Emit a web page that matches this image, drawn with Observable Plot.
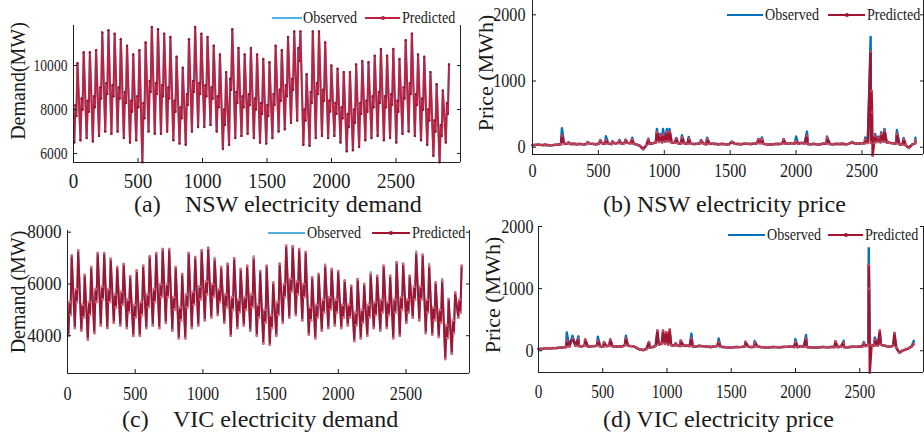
<!DOCTYPE html>
<html><head><meta charset="utf-8">
<script src="https://cdn.jsdelivr.net/npm/d3@7"></script>
<script src="https://cdn.jsdelivr.net/npm/@observablehq/plot@0.6"></script>
<style>
body{margin:0;background:#fff;}
#fig{position:relative;width:924px;height:441px;overflow:hidden;background:#fff;font-family:"Liberation Serif","Times New Roman",serif;color:#1a1a1a;}
.panel{position:absolute;}
.cap{position:absolute;font-size:24px;line-height:1;white-space:pre;}
.ylab{position:absolute;white-space:nowrap;line-height:1;transform:translate(-50%,-50%) rotate(-90deg);}
.lt{position:absolute;font-size:16px;line-height:1;white-space:nowrap;transform:scaleX(0.88);transform-origin:left center;}
.ll{position:absolute;height:1.6px;}
.lm{position:absolute;width:4px;height:4px;border-radius:50%;}
</style></head>
<body><div id="fig"></div>
<script>
// ---------- tick labels ----------
const xTicks = [0, 500, 1000, 1500, 2000, 2500];
const demandTicksNSW = [6000, 8000, 10000];
const demandTicksVIC = [4000, 6000, 8000];
const priceTicks = [0, 1000, 2000];

// ---------- NSW demand (MW): daily trough, morning shoulder, midday dip, daily peak ----------
const nswLow = [6500, 6600, 6700, 6550, 6800, 7000, 6900, 7000, 6700, 6500,
  6600, 5600, 7000, 6900, 6900, 7000, 6600, 6450, 6400, 7000,
  7200, 7200, 7300, 7000, 6200, 6400, 6700, 6800, 6900, 6700,
  6500, 6450, 6700, 7000, 7100, 7400, 7500, 6400, 6350, 6700,
  6800, 6700, 6800, 6500, 6100, 6150, 6300, 6600, 6700, 6800,
  6600, 6700, 6500, 6900, 7000, 6800, 6600, 6400, 5900, 5600, 6500];
const nswMid = [8200, 8500, 8400, 8600, 9000, 9200, 9100, 9000, 8800, 8400,
  8600, 8300, 9300, 9200, 9100, 9000, 8400, 8100, 8700, 9300,
  9200, 9100, 9000, 8600, 8000, 9400, 8800, 8600, 8700, 8500,
  8300, 8200, 8700, 8900, 9100, 9400, 10800, 8000, 8800, 9200,
  8900, 8400, 8300, 8100, 7800, 8000, 8300, 8400, 8600, 8800,
  8600, 8700, 8400, 9000, 9200, 8700, 8500, 8000, 7500, 7300, 8300];
const nswDip = [7700, 8000, 7900, 8100, 8500, 8700, 8600, 8500, 8300, 7900,
  8100, 7600, 8800, 8700, 8600, 8500, 7900, 7600, 8200, 8800,
  8700, 8600, 8500, 8100, 7300, 8900, 8300, 8100, 8200, 8000,
  7800, 7700, 8200, 8400, 8600, 8900, 10200, 7500, 8300, 8700,
  8400, 7900, 7800, 7600, 7200, 7400, 7800, 7900, 8100, 8300,
  8100, 8200, 7900, 8500, 8700, 8200, 8000, 7500, 7000, 6800, 7800];
const nswHigh = [10100, 10600, 10600, 10700, 11500, 11600, 11450, 11200, 10900, 10500,
  10700, 11050, 11750, 11650, 11450, 11300, 10400, 9900, 11200, 11750,
  11450, 11300, 10900, 10500, 9700, 11650, 10800, 10500, 10800, 10500,
  10300, 10150, 10900, 10700, 11300, 11550, 11550, 9600, 11550, 11550,
  11050, 10000, 9850, 9700, 9700, 10050, 10200, 10150, 10450, 10750,
  10450, 10750, 10300, 11150, 11450, 10500, 10400, 9700, 9150, 8860, 10050];

// ---------- VIC demand (MW) ----------
const vicLow = [4000, 4300, 4200, 3850, 4100, 4400, 4300, 4500, 4400, 4300,
  4000, 4000, 4300, 4400, 4300, 4500, 4200, 3900, 3900, 4300,
  4400, 4600, 4700, 4800, 4500, 4000, 4300, 4400, 4200, 4000,
  3700, 3650, 4000, 4500, 4700, 4800, 4600, 4050, 3900, 4200,
  4300, 4400, 4300, 4400, 3800, 3900, 4000, 4300, 4200, 4300,
  3900, 4000, 4500, 4700, 4600, 4100, 4050, 3950, 3100, 3300, 4700];
const vicMid = [5300, 5800, 5200, 5300, 5800, 5900, 5800, 5600, 5700, 5400,
  5200, 5300, 5600, 5800, 6000, 6000, 5500, 5100, 5600, 5700,
  5900, 6100, 6000, 5800, 5600, 5500, 5400, 5500, 5600, 5200,
  5000, 4800, 5300, 6000, 6200, 6100, 6000, 5100, 5200, 5400,
  5500, 5400, 5200, 5200, 4900, 5000, 5200, 5300, 5400, 5300,
  5400, 5500, 5400, 5900, 5900, 5400, 5100, 5000, 4400, 4600, 5400];
const vicDip = [4800, 5300, 4700, 4800, 5300, 5400, 5300, 5100, 5200, 4900,
  4700, 4800, 5100, 5300, 5500, 5500, 5000, 4600, 5100, 5200,
  5400, 5600, 5500, 5300, 5100, 5000, 4900, 5000, 5100, 4700,
  4500, 4300, 4800, 5500, 5700, 5600, 5500, 4600, 4700, 4900,
  5000, 4900, 4700, 4700, 4400, 4500, 4700, 4800, 4900, 4800,
  4900, 5000, 4900, 5400, 5400, 4900, 4600, 4500, 3900, 4100, 4900];
const vicHigh = [7100, 7290, 6350, 6650, 7200, 7200, 6970, 6650, 6775, 6300,
  6515, 6700, 7070, 7200, 7350, 7350, 6650, 6380, 7200, 7040,
  7300, 7400, 6950, 6650, 6780, 6990, 6580, 6700, 7000, 6500,
  6700, 6060, 6780, 7480, 7460, 7350, 7230, 6260, 6380, 6700,
  6580, 6500, 6130, 5935, 6190, 6000, 6380, 6320, 6700, 6320,
  6840, 6780, 6320, 7200, 7130, 6700, 6060, 6130, 5420, 5670, 6700];
// observed peaks that show above the prediction: [day, MW]
const vicObsPeaks = [[22, 7020], [28, 7080], [39, 6760], [46, 6460], [53, 7260], [55, 6790], [57, 6200]];

// ---------- NSW price ($/MWh): half-day base level + spikes [time, value] ----------
const nswPriceBase = [30, 35, 40, 32, 38, 30, 28, 35, 40, 45,
  50, 55, 48, 52, 45, 50, 42, 48, 55, 50,
  45, 52, 60, 50, 55, 48, 58, 62, 55, 60,
  65, 58, 50, 40, 20, -30, 30, 50, 60, 70,
  80, 75, 85, 90, 70, 65, 60, 55, 60, 50,
  55, 48, 50, 60, 55, 45, 50, 52, 48, 45,
  50, 45, 40, 42, 50, 48, 45, 55, 50, 48,
  55, 60, 58, 50, 45, 40, 42, 50, 48, 55,
  52, 58, 60, 55, 50, 65, 55, 48, 45, 50,
  42, 45, 55, 52, 48, 45, 50, 48, 52, 45,
  50, 48, 55, 52, 60, 58, 65, 70, 60, 80,
  75, 85, 70, 65, 60, 55, 45, 40, 30, -10,
  40, 60];
const nswObsSpikes = [[223, 286], [273, 75], [420, 80], [514, 110], [557, 165], [607, 90], [660, 110], [707, 115], [757, 145], [879, 128],
  [944, 276], [970, 200], [990, 276], [1020, 276], [1040, 276], [1091, 140], [1134, 180], [1185, 155], [1279, 110], [1325, 145],
  [1512, 85], [1715, 126], [1741, 148], [1906, 126], [2000, 161], [2083, 236], [2235, 161], [2424, 80], [2525, 148],
  [2566, 1665], [2576, 120], [2600, 200], [2625, 161], [2646, 226], [2671, 276], [2702, 80], [2765, 261], [2816, 140], [2906, 145]];
const nswPredSpikes = [[223, 176], [273, 70], [420, 75], [514, 95], [557, 110], [607, 85], [660, 100], [707, 105], [757, 120], [879, 115],
  [944, 226], [970, 176], [990, 190], [1020, 226], [1040, 240], [1091, 130], [1134, 145], [1185, 130], [1279, 100], [1325, 120],
  [1512, 80], [1715, 120], [1741, 120], [1906, 115], [2000, 90], [2083, 176], [2235, 140], [2424, 75], [2525, 115],
  [2566, 1444], [2573, 851], [2577, 530], [2581, -125], [2600, 170], [2625, 140], [2646, 200], [2671, 250], [2702, 75], [2765, 200], [2816, 120], [2906, 100]];

// ---------- VIC price ($/MWh) ----------
const vicPriceBase = [30, 28, 35, 40, 38, 42, 45, 50, 55, 60,
  70, 65, 80, 75, 70, 85, 65, 70, 75, 80,
  70, 65, 75, 80, 70, 68, 72, 65, 90, 80,
  75, 70, 40, 20, 10, 30, 50, 60, 80, 100,
  120, 110, 100, 90, 80, 85, 75, 80, 85, 75,
  70, 65, 80, 75, 70, 65, 60, 70, 75, 65,
  60, 55, 50, 55, 60, 58, 62, 70, 65, 60,
  65, 70, 60, 55, 50, 55, 60, 58, 55, 60,
  62, 65, 70, 60, 58, 75, 65, 60, 55, 50,
  52, 55, 60, 58, 55, 62, 60, 58, 65, 60,
  55, 60, 65, 62, 70, 68, 75, 100, 90, 85,
  80, 95, 85, 70, 65, 80, 50, -30, 0, 20,
  40, 70];
const vicObsSpikes = [[220, 296], [264, 242], [311, 232], [363, 178], [462, 226], [510, 140], [558, 178], [680, 242], [860, 140],
  [925, 300], [969, 300], [995, 280], [1021, 300], [1068, 116], [1107, 161], [1190, 274], [1402, 199], [1610, 141], [1682, 156],
  [1999, 188], [2082, 253], [2310, 150], [2375, 160], [2531, 140], [2570, 1650], [2578, 100], [2617, 215], [2656, 280], [2770, 250], [2921, 161]];
const vicPredSpikes = [[220, 161], [264, 200], [311, 190], [363, 178], [462, 160], [510, 130], [558, 178], [680, 200], [860, 140],
  [925, 323], [969, 323], [995, 296], [1021, 339], [1068, 116], [1107, 161], [1190, 200], [1402, 140], [1610, 141], [1682, 130],
  [1999, 140], [2082, 200], [2310, 150], [2375, 130], [2531, 120], [2570, 1382], [2573, 1000], [2578, -350], [2617, 180], [2656, 323], [2770, 285], [2921, 110]];

// ---------- build tables ----------
const DAY = 48;
function demandTable(low, mid, dip, high, peakOverride) {
  const over = new Map(peakOverride || []);
  const rows = [];
  low.forEach((_, d) => {
    rows.push({t: d * DAY + 6, v: low[d]});
    rows.push({t: d * DAY + 15, v: mid[d]});
    rows.push({t: d * DAY + 22, v: dip[d]});
    rows.push({t: d * DAY + 31, v: over.has(d) ? over.get(d) : high[d]});
  });
  return rows;
}
function priceTable(base, spikes) {
  const m = new Map(base.map((v, i) => [i * 24, v]));
  spikes.forEach(([t, v]) => m.set(t, v));
  return [...m].sort((a, b) => a[0] - b[0]).map(([t, v]) => ({t, v}));
}

const BLUE = "#0072BD", RED = "#A2142F";
const fig = document.getElementById("fig");

function panel(cfg) {
  const [x0, x1] = cfg.xDomain, [y0] = cfg.yDomain;
  const chart = Plot.plot({
    width: cfg.width, height: cfg.height,
    marginLeft: cfg.mL, marginRight: cfg.mR, marginTop: cfg.mT, marginBottom: cfg.mB,
    x: {domain: cfg.xDomain},
    y: {domain: cfg.yDomain},
    style: {fontFamily: '"Liberation Serif","Times New Roman",serif', color: "#1a1a1a", background: "transparent", overflow: "visible"},
    marks: [
      Plot.line(cfg.obs, {x: "t", y: "v", stroke: cfg.obsColor, strokeWidth: cfg.sw}),
      Plot.line(cfg.pred, {x: "t", y: "v", stroke: cfg.predColor, strokeWidth: cfg.sw}),
      Plot.dot(cfg.pred, {x: "t", y: "v", r: cfg.dotR, fill: cfg.dotColor, stroke: null}),
      Plot.ruleX([x0, x1], {stroke: "#222", strokeWidth: 1}),
      Plot.ruleY([y0], {stroke: "#222", strokeWidth: 1}),
      Plot.axisX({ticks: xTicks, tickSize: -4, tickPadding: cfg.padX, fontSize: cfg.fontX, label: null, tickFormat: d => String(d)}),
      Plot.axisY({ticks: cfg.yTicks, tickSize: -4, tickPadding: cfg.padY, fontSize: cfg.fontY, label: null, tickFormat: d => String(d)}),
      Plot.axisY({anchor: "right", ticks: cfg.yTicks, tickSize: -4, label: null, tickFormat: () => ""})
    ]
  });
  chart.classList.add("panel");
  chart.style.left = cfg.left + "px";
  chart.style.top = cfg.top + "px";
  fig.appendChild(chart);
  const squeeze = (sel, k) => chart.querySelectorAll(sel).forEach(t => {
    const L = t.getComputedTextLength();
    if (L > 0) { t.setAttribute("textLength", (L * k).toFixed(1)); t.setAttribute("lengthAdjust", "spacingAndGlyphs"); }
  });
  squeeze('g[aria-label="x-axis tick label"] text', cfg.sqX);
  squeeze('g[aria-label="y-axis tick label"] text', cfg.sqY);
}

function legend(y, obsLine, obsX, predLine, predX, obsColor, predColor) {
  const add = (cls, css, txt) => { const e = document.createElement("div"); e.className = cls; Object.assign(e.style, css); if (txt) e.textContent = txt; fig.appendChild(e); };
  add("ll", {left: obsLine[0] + "px", width: (obsLine[1] - obsLine[0]) + "px", top: (y - 0.8) + "px", background: obsColor});
  add("lt", {left: obsX + "px", top: (y - 8) + "px"}, "Observed");
  add("ll", {left: predLine[0] + "px", width: (predLine[1] - predLine[0]) + "px", top: (y - 0.8) + "px", background: predColor});
  add("lm", {left: ((predLine[0] + predLine[1]) / 2 - 2) + "px", top: (y - 2) + "px", background: predColor});
  add("lt", {left: predX + "px", top: (y - 8) + "px"}, "Predicted");
}
function text(cls, left, top, str, css) {
  const e = document.createElement("div"); e.className = cls; e.textContent = str;
  e.style.left = left + "px"; e.style.top = top + "px"; Object.assign(e.style, css || {}); fig.appendChild(e);
}

// (a) NSW demand
panel({left: 0, top: 0, width: 470, height: 200, mL: 73, mR: 10, mT: 25, mB: 38,
  xDomain: [0, 3000], yDomain: [5590, 11820], yTicks: demandTicksNSW,
  obs: demandTable(nswLow, nswMid, nswDip, nswHigh), pred: demandTable(nswLow, nswMid, nswDip, nswHigh),
  obsColor: "#4DB3E6", predColor: "#BD2340", dotColor: "#8E1830", dotR: 1.2, sw: 2,
  fontX: 20, fontY: 17, padX: 15, padY: 10, sqX: 0.95, sqY: 0.8});
// (b) NSW price
panel({left: 470, top: 0, width: 454, height: 200, mL: 62, mR: 1, mT: 0, mB: 46,
  xDomain: [0, 2967], yDomain: [-110, 2216], yTicks: priceTicks,
  obs: priceTable(nswPriceBase, nswObsSpikes), pred: priceTable(nswPriceBase, nswPredSpikes),
  obsColor: BLUE, predColor: RED, dotColor: "#C24A62", dotR: 1.4, sw: 2.4,
  fontX: 19, fontY: 19, padX: 13, padY: 11, sqX: 0.85, sqY: 0.85});
// (c) VIC demand
panel({left: 0, top: 215, width: 470, height: 226, mL: 67, mR: 1, mT: 15, mB: 68,
  xDomain: [0, 2969], yDomain: [2540, 8065], yTicks: demandTicksVIC,
  obs: demandTable(vicLow, vicMid, vicDip, vicHigh, vicObsPeaks), pred: demandTable(vicLow, vicMid, vicDip, vicHigh),
  obsColor: "#5AAEDD", predColor: RED, dotColor: "#D0707F", dotR: 1.5, sw: 2,
  fontX: 18, fontY: 19, padX: 18, padY: 10, sqX: 0.9, sqY: 0.9});
// (d) VIC price
panel({left: 470, top: 215, width: 454, height: 226, mL: 68, mR: 1, mT: 11, mB: 69,
  xDomain: [0, 2996], yDomain: [-350, 2000], yTicks: priceTicks,
  obs: priceTable(vicPriceBase, vicObsSpikes), pred: priceTable(vicPriceBase, vicPredSpikes),
  obsColor: BLUE, predColor: RED, dotColor: "#C24A62", dotR: 1.4, sw: 2.4,
  fontX: 18, fontY: 19, padX: 17, padY: 9, sqX: 0.85, sqY: 0.85});

// legends
legend(18, [272, 302], 303, [365, 400], 402, "#4DB3E6", "#BD2340");
legend(15, [727, 763], 765, [828, 865], 867, BLUE, RED);
legend(233, [268, 305], 307, [372, 410], 412, "#5AAEDD", RED);
legend(235, [728, 765], 767, [828, 863], 865, BLUE, RED);

// axis titles
text("ylab", 17.5, 81, "Demand(MW)", {fontSize: "20px"});
text("ylab", 486, 73, "Price (MWh)", {fontSize: "22px"});
text("ylab", 17.5, 292, "Demand (MW)", {fontSize: "20px"});
text("ylab", 493, 295, "Price (MWh)", {fontSize: "22px"});

// captions
text("cap", 134, 192, "(a)");
text("cap", 185, 192, "NSW electricity demand");
text("cap", 603, 192, "(b) NSW electricity price");
text("cap", 122, 407, "(c)");
text("cap", 173, 407, "VIC electricity demand");
text("cap", 603, 407, "(d) VIC electricity price");
</script>
</body></html>
